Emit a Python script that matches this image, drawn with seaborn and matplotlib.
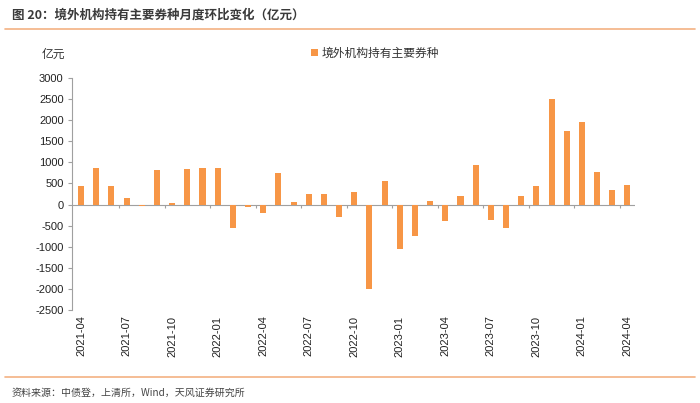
import matplotlib
matplotlib.use("Agg")
import matplotlib.pyplot as plt
import seaborn as sns
import pandas as pd
import numpy as np
from matplotlib.patches import Patch

months = pd.period_range("2021-04", "2024-04", freq="M").strftime("%Y-%m").tolist()
values = [440, 860, 450, 150, -40, 815, 30, 840, 855, 870,
          -560, -50, -190, 745, 55, 245, 260, -290, 290, -2010,
          562, -1060, -744, 87, -388, 206, 926, -364, -562, 206,
          451, 2492, 1748, 1962, 767, 340, 459]
series_name = "境外机构持有主要券种"
title = "图 20：境外机构持有主要券种月度环比变化（亿元）"
source = "资料来源：中债登，上清所，Wind，天风证券研究所"
yticks = list(range(-2500, 3001, 500))

sns.set_theme(style="white")
plt.rcParams['font.family'] = ['Noto Sans CJK SC', 'DejaVu Sans']

df = pd.DataFrame({"month": months, "value": values, "series": series_name})

fig = plt.figure(figsize=(7.0, 4.03), dpi=100)
ax = fig.add_axes([72/700, 1-310/403, (635-72)/700, (310-78)/403])

sns.barplot(data=df, x="month", y="value", hue="series", palette=["#F79646"],
            width=0.4, ax=ax, legend=False, saturation=1, linewidth=0,
            edgecolor="none", zorder=2)

ax.set_ylim(-2500, 3000)
ax.set_xlim(-0.6, 36.5)
ax.set_yticks(yticks)
ax.set_yticklabels([str(v) for v in yticks], fontsize=8, color="#222222",
                   family=['Liberation Sans', 'DejaVu Sans'])
ax.set_xlabel("")
ax.set_ylabel("")

tick_pos = list(range(0, len(months), 3))
ax.set_xticks(tick_pos)
ax.set_xticklabels([months[i] for i in tick_pos], rotation=90, fontsize=8,
                   color="#222222", family=['Liberation Sans', 'DejaVu Sans'])
ax.tick_params(axis="x", length=0, pad=4)
ax.tick_params(axis="y", length=3, width=0.8, color="#A0A0A0", left=True, pad=3)

for s in ["top", "right", "bottom"]:
    ax.spines[s].set_visible(False)
ax.spines["left"].set_color("#A0A0A0")
ax.spines["left"].set_linewidth(0.8)

# zero axis line with small ticks at quarter boundaries
ax.axhline(0, color="#A0A0A0", lw=0.8, zorder=1)
bounds = [i + 2.5 for i in range(0, 36, 3)]
ax.vlines(bounds, -75, 0, color="#A0A0A0", lw=0.8, zorder=1)

# legend
fig.legend(handles=[Patch(facecolor="#F79646", edgecolor="none")], labels=[series_name],
           loc="center left", bbox_to_anchor=(300/700, 1-53/403), frameon=False,
           fontsize=8.5, handlelength=0.6, handleheight=0.6, handletextpad=0.3,
           labelcolor="#333333")

fig.text(42/700, 1-54/403, "亿元", fontsize=8.5, color="#333333", va="center", ha="left")

# title and separator lines
fig.text(12/700, 1-15/403, title, fontsize=9, fontweight="bold", color="#3A3A3A",
         va="center", ha="left")
fig.add_artist(plt.Line2D([5/700, 695/700], [1-29/403, 1-29/403], color="#F4B183", lw=1.2))
fig.add_artist(plt.Line2D([5/700, 695/700], [1-377/403, 1-377/403], color="#F4B183", lw=1.2))
fig.text(12/700, 1-393/403, source, fontsize=7.2, color="#444444", va="center", ha="left")

fig.savefig("out.png", dpi=100, facecolor="white")
